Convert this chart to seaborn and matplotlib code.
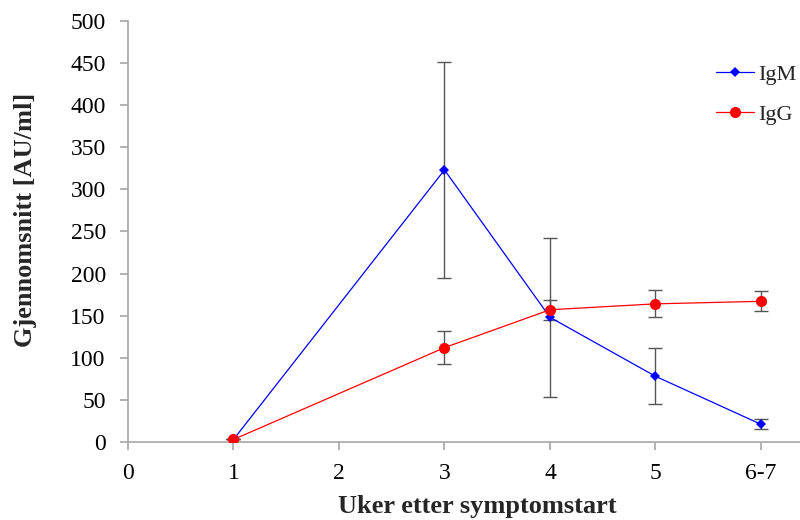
import numpy as np
import pandas as pd
import matplotlib
matplotlib.use("Agg")
import matplotlib.pyplot as plt
import seaborn as sns

# data
weeks = [1, 3, 4, 5, 6]
week_labels = ["0", "1", "2", "3", "4", "5", "6-7"]
igm_mean = [3, 323, 148, 78, 21]
igm_err = [0, 128, 94, 33, 6]
igg_mean = [3, 112, 157, 164, 167]
igg_err = [0, 20, 12, 16, 12]

df = pd.DataFrame({
    "Uke": weeks * 2,
    "Verdi": igm_mean + igg_mean,
    "Serie": ["IgM"] * len(weeks) + ["IgG"] * len(weeks),
})

sns.set_theme(style="white")
plt.rcParams["font.family"] = ["Liberation Serif", "DejaVu Serif"]

fig = plt.figure(figsize=(8, 5.2), dpi=100)
ax = fig.add_axes([0.16, 0.15, 0.84, 0.81])

GRAY = "#a6a6a6"
ax.errorbar(weeks, igm_mean, yerr=igm_err, fmt="none", ecolor="#555555",
            elinewidth=1, capsize=5, capthick=1, zorder=2)
ax.errorbar(weeks, igg_mean, yerr=igg_err, fmt="none", ecolor="#555555",
            elinewidth=1, capsize=5, capthick=1, zorder=2)

sns.lineplot(data=df, x="Uke", y="Verdi", hue="Serie", style="Serie",
             palette={"IgM": "#0000ff", "IgG": "#ff0000"},
             markers={"IgM": "D", "IgG": "o"}, dashes=False,
             markersize=5, linewidth=0.9, markeredgewidth=0, ax=ax, zorder=3)
# bigger circles for IgG
for line in ax.lines:
    if line.get_marker() == "o":
        line.set_markersize(8)

ax.set_xlim(0, 6.37)
ax.set_ylim(0, 500)
ax.set_xticks(range(7))
ax.set_xticklabels(week_labels)
ax.set_yticks(np.arange(0, 501, 50))

for s in ["top", "right"]:
    ax.spines[s].set_visible(False)
for s in ["left", "bottom"]:
    ax.spines[s].set_color(GRAY)
    ax.spines[s].set_linewidth(1.2)
ax.tick_params(axis="both", which="major", direction="out", length=6,
               width=1.2, color=GRAY, labelsize=17, labelcolor="black",
               left=True, bottom=True)
ax.tick_params(axis="y", pad=10)
ax.tick_params(axis="x", pad=9)

ax.set_xlabel("Uker etter symptomstart", fontsize=19, fontweight="bold")
ax.set_ylabel("Gjennomsnitt [AU/ml]", fontsize=19, fontweight="bold")
ax.xaxis.set_label_coords(0.52, -0.152)
ax.yaxis.set_label_coords(-0.153, 0.527)
ax.xaxis.label.set_va("center")
ax.yaxis.label.set_va("center")

handles, labels = ax.get_legend_handles_labels()
order = [labels.index("IgM"), labels.index("IgG")]
ax.legend([handles[i] for i in order], [labels[i] for i in order],
          loc="upper right", bbox_to_anchor=(1.025, 0.945), frameon=False,
          fontsize=16, handlelength=1.7, handletextpad=0.2, labelspacing=0.9)

plt.savefig("out.png", dpi=100)
